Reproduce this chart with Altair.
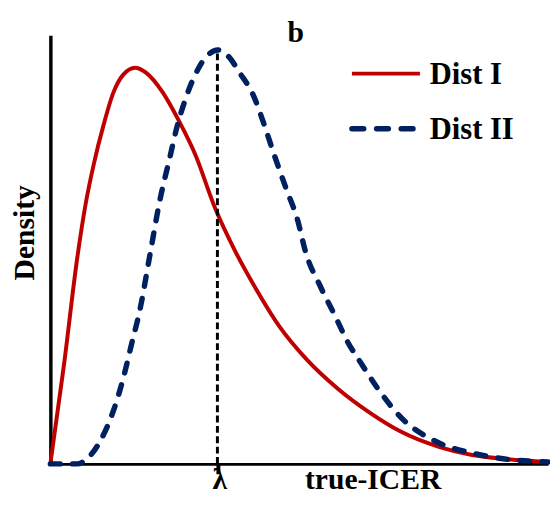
import altair as alt
import pandas as pd

# ---- data (x: units along true-ICER axis, y: density units) ----
red_x = [0, 14, 27, 36, 44, 54, 64, 74, 86, 97, 114, 131, 147, 167, 187, 209, 232, 260, 292, 324, 355, 395, 428, 461, 505]
red_y = [0, 102, 207, 265, 304, 344, 377, 395, 402, 397, 377, 347, 314, 260, 217, 177, 140, 106, 76, 52, 33, 17, 9, 5, 2]

blue_x = [0, 27, 37, 51, 64, 74, 82, 91, 101, 111, 121, 129, 137, 147, 159, 170, 182, 192, 206, 216, 227, 239, 251,
          259, 274, 289, 301, 316, 334, 354, 395, 428, 461, 505]
blue_y = [0, 0, 5, 24, 54, 87, 120, 157, 212, 267, 310, 344, 370, 395, 414, 420, 412, 397, 374, 347, 314, 280, 247,
          215, 180, 150, 125, 101, 74, 49, 21, 11, 5, 2]

lambda_x = [169.5]
lambda_y = [0]
lambda_y2 = [420]

legend_labels = ["Dist I", "Dist II"]
legend_line_x = [306, 306]
legend_line_x2 = [375, 375]
legend_line_y = [396, 340]
legend_text_x = [385, 385]
legend_text_y = [385, 330]

panel_label = ["b"]
panel_x = [249]
panel_y = [428]

FONT = "Liberation Serif"
RED = "#C00000"
BLUE = "#002060"

red_df = pd.DataFrame({"x": red_x, "y": red_y})
blue_df = pd.DataFrame({"x": blue_x, "y": blue_y})
rule_df = pd.DataFrame({"x": lambda_x, "y": lambda_y, "y2": lambda_y2})
leg_red = pd.DataFrame({"x": legend_line_x[:1], "x2": legend_line_x2[:1], "y": legend_line_y[:1]})
leg_blue = pd.DataFrame({"x": legend_line_x[1:], "x2": legend_line_x2[1:], "y": legend_line_y[1:]})
leg_text = pd.DataFrame({"x": legend_text_x, "y": legend_text_y, "text": legend_labels})
title_df = pd.DataFrame({"x": panel_x, "y": panel_y, "text": panel_label})

x_scale = alt.Scale(domain=[0, 505], nice=False, zero=False)
y_scale = alt.Scale(domain=[0, 435], nice=False, zero=False)

x_axis = alt.Axis(
    values=lambda_x, labelExpr="'λ'", title="true-ICER", grid=False,
    domainColor="black", domainWidth=3, tickColor="black", tickWidth=4, tickSize=10,
    labelFont=FONT, labelFontSize=30, labelFontWeight="bold", labelColor="black",
    labelBaseline="alphabetic", labelPadding=15, labelAngle=0, labelOffset=2,
    titleFont=FONT, titleFontSize=30, titleFontWeight="bold", titleColor="black",
    titleX=327, titleY=25, titleAlign="center", titleBaseline="alphabetic",
)
y_axis = alt.Axis(
    title="Density", ticks=False, labels=False, grid=False,
    domainColor="black", domainWidth=3.5,
    titleFont=FONT, titleFontSize=30, titleFontWeight="bold", titleColor="black",
    titleAngle=270, titleX=-17.5, titleY=200, titleAlign="center", titleBaseline="alphabetic",
)


def X():
    return alt.X("x:Q", scale=x_scale, axis=x_axis)


def Y():
    return alt.Y("y:Q", scale=y_scale, axis=y_axis)


red = alt.Chart(red_df).mark_line(color=RED, strokeWidth=4, interpolate="monotone").encode(x=X(), y=Y())
blue = alt.Chart(blue_df).mark_line(
    color=BLUE, strokeWidth=5.5, strokeDash=[10, 12.5], strokeCap="round", interpolate="monotone"
).encode(x=X(), y=Y())
rule = alt.Chart(rule_df).mark_rule(color="black", strokeWidth=3, strokeDash=[7, 3.5]).encode(
    x=X(), y=Y(), y2="y2:Q"
)
legend_red = alt.Chart(leg_red).mark_rule(color=RED, strokeWidth=4).encode(x=X(), x2="x2:Q", y=Y())
legend_blue = alt.Chart(leg_blue).mark_rule(
    color=BLUE, strokeWidth=5.5, strokeDash=[12, 13], strokeCap="round"
).encode(x=X(), x2="x2:Q", y=Y())
legend_txt = alt.Chart(leg_text).mark_text(
    font=FONT, fontSize=31, fontWeight="bold", color="black", align="left", baseline="alphabetic"
).encode(x=X(), y=Y(), text="text:N")
title_txt = alt.Chart(title_df).mark_text(
    font=FONT, fontSize=30, fontWeight="bold", color="black", align="center", baseline="alphabetic"
).encode(x=X(), y=Y(), text="text:N")

chart = alt.layer(red, rule, blue, legend_red, legend_blue, legend_txt, title_txt).properties(
    width=505, height=435,
    padding={"left": 43, "top": 24, "right": 2, "bottom": 31},
    autosize=alt.AutoSizeParams(type="none"),
).configure_view(stroke=None)

chart.save("out.html", embed_options={"renderer": "svg", "actions": False})
